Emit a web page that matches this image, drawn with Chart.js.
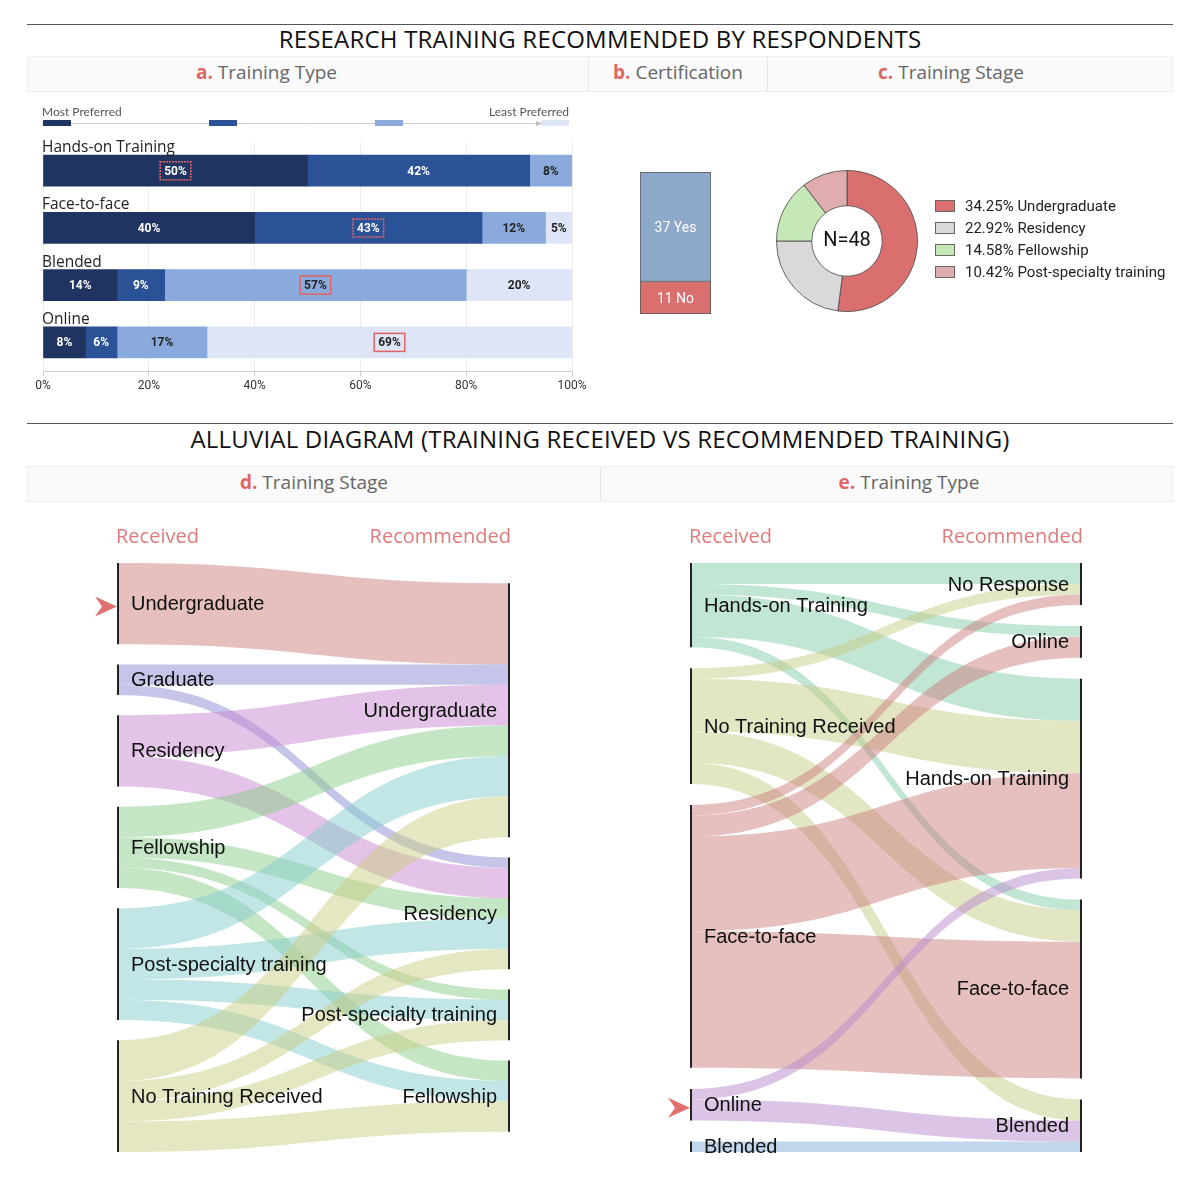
<!DOCTYPE html>
<html>
<head>
<meta charset="utf-8">
<script src="https://cdn.jsdelivr.net/npm/chart.js@4.4.1/dist/chart.umd.min.js"></script>
<style>
    body { margin: 0; background: #fff; width: 1200px; height: 1180px; position: relative; overflow: hidden; font-family: 'Open Sans', Lato, sans-serif; }
    .rule { position: absolute; left: 27px; width: 1146px; border-top: 1px solid #555; }
    .title { position: absolute; left: 0; width: 1200px; text-align: center; font-size: 24px; line-height: 28px; color: #111; letter-spacing: 0.2px; }
    .band { position: absolute; left: 27px; width: 1146px; height: 36px; background: #fafafa; border: 1px solid #eee; box-sizing: border-box; }
    .panel { position: absolute; top: 0; height: 34px; line-height: 31px; text-align: center; font-size: 19px; color: #666; border-right: 1px solid #e6e6e6; box-sizing: border-box; }
    .panel b { color: #e06666; font-weight: 700; }
    canvas { position: absolute; }
</style>
</head>
<body>
<div class="rule" style="top:24px"></div>
<div class="title" style="top:25px">RESEARCH TRAINING RECOMMENDED BY RESPONDENTS</div>
<div class="band" style="top:56px">
    <div class="panel" style="left:0;width:561px;padding-right:83px"><b>a.</b> Training Type</div>
    <div class="panel" style="left:561px;width:179px"><b>b.</b> Certification</div>
    <div class="panel" style="left:740px;width:404px;padding-right:38px;border-right:none"><b>c.</b> Training Stage</div>
</div>
<canvas id="typeChart" width="600" height="300" style="left:0;top:100px"></canvas>
<canvas id="certChart" width="90" height="160" style="left:630px;top:165px"></canvas>
<canvas id="stageChart" width="420" height="170" style="left:760px;top:160px"></canvas>

<div class="rule" style="top:423px"></div>
<div class="title" style="top:425px">ALLUVIAL DIAGRAM (TRAINING RECEIVED VS RECOMMENDED TRAINING)</div>
<div class="band" style="top:466px">
    <div class="panel" style="left:0;width:573px"><b>d.</b> Training Stage</div>
    <div class="panel" style="left:573px;width:571px;padding-left:45px;border-right:none"><b>e.</b> Training Type</div>
</div>
<canvas id="stageFlow" width="600" height="680" style="left:0;top:500px"></canvas>
<canvas id="typeFlow" width="600" height="680" style="left:600px;top:500px"></canvas>

<script>
// a. preferred training type (percent of respondents per rank)
const trainingTypes = ['Hands-on Training', 'Face-to-face', 'Blended', 'Online'];
const rankLabels = ['Most Preferred', 'Second', 'Third', 'Least Preferred'];
const rank1 = [50, 40, 14, 8];
const rank2 = [42, 43, 9, 6];
const rank3 = [8, 12, 57, 17];
const rank4 = [0, 5, 20, 69];
const rankColors = ['#1f3461', '#2b5196', '#8aaadd', '#dde5f6'];
const percentTicks = [0, 20, 40, 60, 80, 100];

// b. certification
const certLabels = ['No', 'Yes'];
const certValues = [11, 37];
const certColors = ['#d9706f', '#8ea8c9'];

// c. recommended training stage
const stageLabels = ['Undergraduate', 'Residency', 'Fellowship', 'Post-specialty training'];
const stageCounts = [25, 11, 7, 5];
const stageLegendPct = ['34.25%', '22.92%', '14.58%', '10.42%'];
const stageColors = ['#d9706f', '#d9d9d9', '#c6e8b6', '#dfadad'];

// d. alluvial, training stage: [received, recommended, count]
const stageReceived = ['Undergraduate', 'Graduate', 'Residency', 'Fellowship', 'Post-specialty training', 'No Training Received'];
const stageRecommended = ['Undergraduate', 'Residency', 'Post-specialty training', 'Fellowship'];
const stageFlows = [
    [0, 0, 8],
    [1, 0, 2], [1, 1, 1],
    [2, 0, 4], [2, 1, 3],
    [3, 0, 3], [3, 1, 2], [3, 2, 1], [3, 3, 2],
    [4, 0, 4], [4, 1, 3], [4, 2, 2], [4, 3, 2],
    [5, 0, 4], [5, 1, 2], [5, 2, 2], [5, 3, 3]
];
const stageFlowColors = ['rgba(205,128,128,0.5)', 'rgba(139,139,212,0.5)', 'rgba(200,136,208,0.5)',
    'rgba(140,206,140,0.5)', 'rgba(134,206,206,0.5)', 'rgba(204,206,134,0.5)'];

// e. alluvial, training type
const typeReceived = ['Hands-on Training', 'No Training Received', 'Face-to-face', 'Online', 'Blended'];
const typeRecommended = ['No Response', 'Online', 'Hands-on Training', 'Face-to-face', 'Blended'];
const typeFlows = [
    [0, 0, 2], [0, 1, 1], [0, 2, 4], [0, 3, 1],
    [1, 0, 1], [1, 2, 5], [1, 3, 3], [1, 4, 2],
    [2, 0, 1], [2, 1, 2], [2, 2, 9], [2, 3, 13],
    [3, 2, 1], [3, 4, 2],
    [4, 4, 1]
];
const typeFlowColors = ['rgba(131,205,167,0.5)', 'rgba(197,205,135,0.5)', 'rgba(205,128,128,0.5)',
    'rgba(185,137,205,0.5)', 'rgba(131,173,217,0.5)'];

const narrow = "Roboto, 'DejaVu Sans Condensed', sans-serif";
Chart.defaults.animation = false;
Chart.defaults.plugins.legend.display = false;
Chart.defaults.plugins.tooltip.enabled = false;

// Chart a
const typeLabelsPlugin = {
    id: 'typeLabels',
    afterDatasetsDraw(chart) {
        const ctx = chart.ctx;
        const right = chart.chartArea.right - 3;
        ctx.save();
        // rank legend on top
        ctx.strokeStyle = '#cccccc';
        ctx.lineWidth = 1;
        ctx.beginPath();
        ctx.moveTo(42, 23.5);
        ctx.lineTo(right, 23.5);
        ctx.stroke();
        const step = (right - 28 - 43) / (rankColors.length - 1);
        rankColors.forEach((c, i) => {
            ctx.fillStyle = c;
            ctx.fillRect(43 + i * step, 20, 28, 6);
        });
        ctx.fillStyle = '#bbbbbb';
        ctx.beginPath();
        ctx.moveTo(right - 27, 23.5);
        ctx.lineTo(right - 33, 21);
        ctx.lineTo(right - 33, 26);
        ctx.fill();
        ctx.font = "12px Lato, sans-serif";
        ctx.fillStyle = '#555';
        ctx.textBaseline = 'alphabetic';
        ctx.textAlign = 'left';
        ctx.fillText(rankLabels[0], 42, 16);
        ctx.textAlign = 'right';
        ctx.fillText(rankLabels[3], right, 16);

        // category names above bars
        const first = chart.getDatasetMeta(0).data;
        ctx.font = "15.5px 'Open Sans', sans-serif";
        ctx.fillStyle = '#222';
        ctx.textAlign = 'left';
        first.forEach((bar, j) => {
            ctx.fillText(trainingTypes[j], 42, bar.y - bar.height / 2 - 3);
        });

        // value labels and box on the top choice
        ctx.font = "bold 12px " + narrow;
        ctx.textAlign = 'center';
        ctx.textBaseline = 'middle';
        chart.data.datasets.forEach((ds, i) => {
            chart.getDatasetMeta(i).data.forEach((bar, j) => {
                const v = ds.data[j];
                if (!v) return;
                const x = (bar.x + bar.base) / 2;
                ctx.fillStyle = i < 2 ? '#ffffff' : '#222222';
                ctx.fillText(v + '%', x, bar.y + 1);
                const row = chart.data.datasets.map(d => d.data[j]);
                if (v === Math.max(...row)) {
                    const w = ctx.measureText(v + '%').width + 8;
                    ctx.strokeStyle = '#e06464';
                    ctx.lineWidth = 1.5;
                    ctx.setLineDash(j < 2 ? [2, 1] : []);
                    ctx.strokeRect(x - w / 2, bar.y - 9, w, 18);
                    ctx.setLineDash([]);
                }
            });
        });
        ctx.restore();
    }
};

new Chart(document.getElementById('typeChart'), {
    type: 'bar',
    data: {
        labels: trainingTypes,
        datasets: [rank1, rank2, rank3, rank4].map((d, i) => ({
            label: rankLabels[i],
            data: d,
            backgroundColor: rankColors[i],
            barThickness: 31,
            borderWidth: 0
        }))
    },
    options: {
        responsive: false,
        indexAxis: 'y',
        layout: { padding: { left: 43, right: 28, top: 42, bottom: 0 } },
        scales: {
            x: {
                stacked: true,
                min: 0,
                max: 100,
                afterBuildTicks: scale => { scale.ticks = percentTicks.map(v => ({ value: v })); },
                afterFit: scale => { scale.height = 29; },
                grid: { color: '#ececec', tickColor: '#cccccc', tickLength: 5 },
                border: { color: '#cccccc' },
                ticks: {
                    padding: 3,
                    color: '#333',
                    font: { family: narrow, size: 12 },
                    callback: v => v + '%'
                }
            },
            y: { stacked: true, display: false }
        }
    },
    plugins: [typeLabelsPlugin]
});

// Chart b
const certLabelsPlugin = {
    id: 'certLabels',
    afterDatasetsDraw(chart) {
        const ctx = chart.ctx;
        ctx.save();
        ctx.font = "14px " + narrow;
        ctx.fillStyle = '#ffffff';
        ctx.textAlign = 'center';
        ctx.textBaseline = 'middle';
        chart.data.datasets.forEach((ds, i) => {
            const bar = chart.getDatasetMeta(i).data[0];
            ctx.fillText(ds.data[0] + ' ' + ds.label, bar.x, (bar.y + bar.base) / 2 + 2);
        });
        ctx.restore();
    }
};

new Chart(document.getElementById('certChart'), {
    type: 'bar',
    data: {
        labels: ['Certification'],
        datasets: certLabels.map((l, i) => ({
            label: l,
            data: [certValues[i]],
            backgroundColor: certColors[i],
            borderColor: '#555',
            borderWidth: 1,
            borderSkipped: false,
            barPercentage: 1,
            categoryPercentage: 1
        }))
    },
    options: {
        responsive: false,
        layout: { padding: { left: 10, right: 9, top: 7, bottom: 11 } },
        scales: {
            x: { stacked: true, display: false },
            y: { stacked: true, display: false, min: 0, max: certValues[0] + certValues[1] }
        }
    },
    plugins: [certLabelsPlugin]
});

// Chart c
const stageCenterPlugin = {
    id: 'stageCenter',
    afterDatasetsDraw(chart) {
        const ctx = chart.ctx;
        const arc = chart.getDatasetMeta(0).data[0];
        const total = stageCounts.reduce((a, b) => a + b, 0);
        ctx.save();
        ctx.font = "20px " + narrow;
        ctx.fillStyle = '#111';
        ctx.textAlign = 'center';
        ctx.textBaseline = 'middle';
        ctx.fillText('N=' + total, arc.x, arc.y);
        // legend
        ctx.font = "15px " + narrow;
        ctx.textAlign = 'left';
        stageLabels.forEach((l, i) => {
            const y = 46 + i * 22;
            ctx.fillStyle = stageColors[i];
            ctx.fillRect(175, y - 6, 20, 12);
            ctx.strokeStyle = '#666';
            ctx.lineWidth = 1;
            ctx.strokeRect(175.5, y - 5.5, 19, 11);
            ctx.fillStyle = '#222';
            ctx.fillText(stageLegendPct[i] + ' ' + l, 205, y + 1);
        });
        ctx.restore();
    }
};

new Chart(document.getElementById('stageChart'), {
    type: 'doughnut',
    data: {
        labels: stageLabels,
        datasets: [{
            data: stageCounts,
            backgroundColor: stageColors,
            borderColor: 'rgba(70,70,70,0.8)',
            borderWidth: 1
        }]
    },
    options: {
        responsive: false,
        cutout: '50%',
        layout: { padding: { left: 16, right: 262, top: 10, bottom: 18 } }
    },
    plugins: [stageCenterPlugin]
});

// Alluvial diagrams d and e
function layoutAlluvial(left, right, flows, gap) {
    const leftSum = left.map(() => 0);
    const rightSum = right.map(() => 0);
    flows.forEach(f => { leftSum[f[0]] += f[2]; rightSum[f[1]] += f[2]; });
    const total = leftSum.reduce((a, b) => a + b, 0);
    const spanL = total + gap * (left.length - 1);
    const spanR = total + gap * (right.length - 1);
    const span = Math.max(spanL, spanR);
    function stack(sums, offset) {
        let y = offset;
        return sums.map(v => { const n = { y0: y, y1: y + v }; y += v + gap; return n; });
    }
    const leftNodes = stack(leftSum, (span - spanL) / 2);
    const rightNodes = stack(rightSum, (span - spanR) / 2);
    const links = flows.map(f => ({ s: f[0], t: f[1], v: f[2] }));
    const lc = leftNodes.map(n => n.y0);
    links.slice().sort((a, b) => a.s - b.s || a.t - b.t).forEach(l => { l.sy = lc[l.s]; lc[l.s] += l.v; });
    const rc = rightNodes.map(n => n.y0);
    links.slice().sort((a, b) => a.t - b.t || a.s - b.s).forEach(l => { l.ty = rc[l.t]; rc[l.t] += l.v; });
    return { span, leftNodes, rightNodes, links };
}

function makeAlluvial(id, left, right, flows, colors, marked, padding) {
    const lay = layoutAlluvial(left, right, flows, 2);
    const plugin = {
        id: 'alluvial',
        afterDatasetsDraw(chart) {
            const ctx = chart.ctx;
            const xs = chart.scales.x, ys = chart.scales.y;
            const x0 = xs.getPixelForValue(0), x1 = xs.getPixelForValue(1);
            const xm = (x0 + x1) / 2;
            ctx.save();
            lay.links.forEach(l => {
                const a0 = ys.getPixelForValue(l.sy), a1 = ys.getPixelForValue(l.sy + l.v);
                const b0 = ys.getPixelForValue(l.ty), b1 = ys.getPixelForValue(l.ty + l.v);
                ctx.fillStyle = colors[l.s];
                ctx.beginPath();
                ctx.moveTo(x0, a0);
                ctx.bezierCurveTo(xm, a0, xm, b0, x1, b0);
                ctx.lineTo(x1, b1);
                ctx.bezierCurveTo(xm, b1, xm, a1, x0, a1);
                ctx.closePath();
                ctx.fill();
            });
            ctx.strokeStyle = '#222';
            ctx.lineWidth = 2;
            [[lay.leftNodes, x0], [lay.rightNodes, x1]].forEach(([nodes, x]) => {
                nodes.forEach(n => {
                    ctx.beginPath();
                    ctx.moveTo(x, ys.getPixelForValue(n.y0));
                    ctx.lineTo(x, ys.getPixelForValue(n.y1));
                    ctx.stroke();
                });
            });
            ctx.font = "20px 'Liberation Sans', Arial, sans-serif";
            ctx.fillStyle = '#111';
            ctx.textBaseline = 'middle';
            ctx.textAlign = 'left';
            lay.leftNodes.forEach((n, i) => {
                ctx.fillText(left[i], x0 + 13, ys.getPixelForValue((n.y0 + n.y1) / 2) + 1);
            });
            ctx.textAlign = 'right';
            lay.rightNodes.forEach((n, i) => {
                ctx.fillText(right[i], x1 - 12, ys.getPixelForValue((n.y0 + n.y1) / 2) + 1);
            });
            // column headers
            ctx.font = "20px 'Open Sans', sans-serif";
            ctx.fillStyle = '#e07b7b';
            ctx.textAlign = 'left';
            ctx.fillText('Received', x0 - 2, 37);
            ctx.textAlign = 'right';
            ctx.fillText('Recommended', x1 + 2, 37);
            // marker arrow
            const n = lay.leftNodes[marked];
            const cy = ys.getPixelForValue((n.y0 + n.y1) / 2) + 3;
            ctx.fillStyle = '#e07070';
            ctx.beginPath();
            ctx.moveTo(x0 - 1, cy);
            ctx.lineTo(x0 - 23, cy - 10);
            ctx.lineTo(x0 - 16, cy);
            ctx.lineTo(x0 - 23, cy + 10);
            ctx.closePath();
            ctx.fill();
            ctx.restore();
        }
    };
    new Chart(document.getElementById(id), {
        type: 'scatter',
        data: { datasets: [{ data: [] }] },
        options: {
            responsive: false,
            layout: { padding: padding },
            scales: {
                x: { type: 'linear', min: 0, max: 1, display: false },
                y: { type: 'linear', min: 0, max: lay.span, reverse: true, display: false }
            }
        },
        plugins: [plugin]
    });
}

makeAlluvial('stageFlow', stageReceived, stageRecommended, stageFlows, stageFlowColors, 0,
    { left: 118, right: 91, top: 63, bottom: 28 });
makeAlluvial('typeFlow', typeReceived, typeRecommended, typeFlows, typeFlowColors, 3,
    { left: 91, right: 119, top: 63, bottom: 28 });
</script>
</body>
</html>
